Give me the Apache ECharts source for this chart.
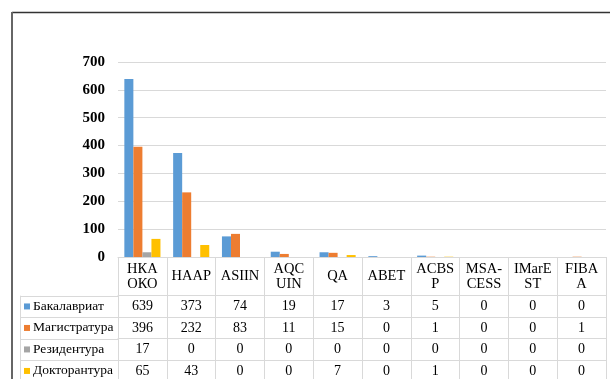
<!DOCTYPE html>
<html>
<head>
<meta charset="utf-8">
<script src="https://cdn.jsdelivr.net/npm/echarts@6/dist/echarts.min.js"></script>
<style>
html,body{margin:0;padding:0;background:#fff;}
#c{width:610px;height:379px;}
</style>
</head>
<body>
<div id="c"></div>
<script>
var categories = ['НКА\nОКО','HAAP','ASIIN','AQC\nUIN','QA','ABET','ACBS\nP','MSA-\nCESS','IMarE\nST','FIBA\nA'];
var seriesNames = ['Бакалавриат','Магистратура','Резидентура','Докторантура'];
var bakalavriat = [639,373,74,19,17,3,5,0,0,0];
var magistratura = [396,232,83,11,15,0,1,0,0,1];
var rezidentura = [17,0,0,0,0,0,0,0,0,0];
var doktorantura = [65,43,0,0,7,0,1,0,0,0];
var yTicks = [0,100,200,300,400,500,600,700];

var allValues = [bakalavriat, magistratura, rezidentura, doktorantura];
var colors = ['#5B9BD5','#ED7D31','#A5A5A5','#FFC000'];
var FONT = '"Liberation Serif", "Times New Roman", serif';
var GRID_LEFT = 118, GRID_TOP = 62, GRID_BOTTOM_Y = 257, CHART_H = 379, CHART_W = 610, GRID_RIGHT = 4;
var HEADER_H = 38.7, ROW_H = 21.5, TABLE_LEFT = 20.5;
var lineColor = '#d9d9d9';

var chart = echarts.init(document.getElementById('c'));

var xAxes = [{
  type: 'category',
  data: categories,
  gridIndex: 0,
  position: 'bottom',
  axisLine: {show: true, lineStyle: {color: lineColor, width: 1}},
  axisTick: {show: true, interval: 0, length: CHART_H - GRID_BOTTOM_Y + 5, lineStyle: {color: lineColor, width: 1}},
  axisLabel: {interval: 0, margin: HEADER_H / 2, verticalAlign: 'middle', lineHeight: 15,
    fontFamily: FONT, fontSize: 14.5, color: '#000'},
  splitLine: {show: false}
}];
allValues.forEach(function (vals, i) {
  xAxes.push({
    type: 'category',
    data: categories,
    gridIndex: 0,
    position: 'bottom',
    offset: HEADER_H + ROW_H * i,
    axisLine: {show: true, lineStyle: {color: lineColor, width: 1}},
    axisTick: {show: false},
    axisLabel: {interval: 0, margin: ROW_H / 2, verticalAlign: 'middle',
      fontFamily: FONT, fontSize: 14, color: '#000',
      formatter: function (v, idx) { return String(vals[idx]); }},
    splitLine: {show: false}
  });
});

var graphics = [
  {type: 'line', shape: {x1: 12, y1: 12.5, x2: CHART_W, y2: 12.5}, style: {stroke: '#333', lineWidth: 1.5}, z: 100},
  {type: 'line', shape: {x1: 12, y1: 12, x2: 12, y2: CHART_H}, style: {stroke: '#666', lineWidth: 2}, z: 100},
  {type: 'line', shape: {x1: TABLE_LEFT, y1: GRID_BOTTOM_Y + HEADER_H, x2: TABLE_LEFT, y2: CHART_H}, style: {stroke: lineColor, lineWidth: 1}}
];
for (var r = 0; r < 4; r++) {
  var yy = Math.round(GRID_BOTTOM_Y + HEADER_H + ROW_H * r) + 0.5;
  graphics.push({type: 'line', shape: {x1: TABLE_LEFT, y1: yy, x2: GRID_LEFT, y2: yy}, style: {stroke: lineColor, lineWidth: 1}});
}

var series = allValues.map(function (vals, i) {
  return {
    name: seriesNames[i],
    type: 'bar',
    data: vals,
    barGap: '0%',
    barCategoryGap: '26%',
    itemStyle: {color: colors[i]},
    xAxisIndex: 0,
    yAxisIndex: 0
  };
});

chart.setOption({
  animation: false,
  backgroundColor: '#fff',
  grid: {left: GRID_LEFT, top: GRID_TOP, right: GRID_RIGHT, bottom: CHART_H - GRID_BOTTOM_Y, containLabel: false},
  legend: {
    orient: 'vertical',
    left: 24,
    top: GRID_BOTTOM_Y + HEADER_H + ROW_H / 2 - 8,
    padding: 0,
    itemGap: ROW_H - 16,
    itemWidth: 6,
    itemHeight: 6,
    icon: 'rect',
    data: seriesNames,
    textStyle: {fontFamily: FONT, fontSize: 13.5, color: '#000', lineHeight: 16, padding: [0, 0, 0, -2]},
    selectedMode: false
  },
  xAxis: xAxes,
  yAxis: {
    type: 'value',
    min: yTicks[0],
    max: yTicks[yTicks.length - 1],
    interval: yTicks[1] - yTicks[0],
    axisLine: {show: false},
    axisTick: {show: false},
    axisLabel: {margin: 13, fontFamily: FONT, fontSize: 15, fontWeight: 'bold', color: '#000'},
    splitLine: {lineStyle: {color: lineColor, width: 1}}
  },
  graphic: graphics,
  series: series
});
</script>
</body>
</html>
